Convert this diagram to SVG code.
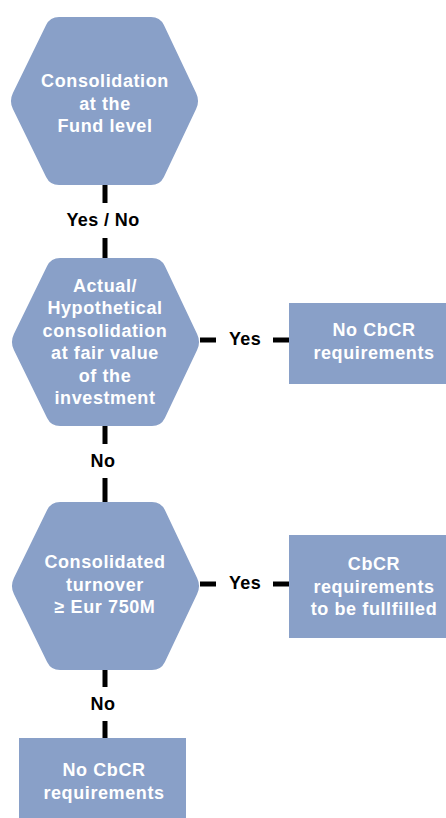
<svg xmlns="http://www.w3.org/2000/svg" width="446" height="818" viewBox="0 0 446 818">
<defs>
<style>
.shape{fill:#89a0c8}
.nt{font-family:"Liberation Sans",Arial,sans-serif;font-weight:bold;font-size:18px;fill:#fff;text-anchor:middle;letter-spacing:0.6px}
.lbl{font-family:"Liberation Sans",Arial,sans-serif;font-weight:bold;font-size:18px;fill:#000;text-anchor:middle;letter-spacing:0.4px}
.c{stroke:#000;stroke-width:5;fill:none}
</style>
<path id="hex" d="M59,17 L151,17 Q160,17 163.9,25.1 L196.1,92.9 Q200,101 196.1,109.1 L163.9,176.9 Q160,185 151,185 L59,185 Q50,185 46.1,176.9 L12.9,109.1 Q9,101 12.9,92.9 L46.1,25.1 Q50,17 59,17 Z"/>
</defs>
<rect width="446" height="818" fill="#fff"/>
<g id="connectors">
<line class="c" x1="105" y1="185" x2="105" y2="203"/>
<line class="c" x1="105" y1="238" x2="105" y2="259"/>
<line class="c" x1="105" y1="425" x2="105" y2="444"/>
<line class="c" x1="105" y1="478" x2="105" y2="503"/>
<line class="c" x1="105" y1="669" x2="105" y2="687"/>
<line class="c" x1="105" y1="721" x2="105" y2="739"/>
<line class="c" x1="200" y1="340" x2="216" y2="340"/>
<line class="c" x1="273" y1="340" x2="290" y2="340"/>
<line class="c" x1="200" y1="584" x2="216" y2="584"/>
<line class="c" x1="273" y1="584" x2="290" y2="584"/>
<text class="lbl" x="103" y="220" dy="0.35em">Yes / No</text>
<text class="lbl" x="103" y="461" dy="0.35em">No</text>
<text class="lbl" x="245" y="339" dy="0.35em">Yes</text>
<text class="lbl" x="245" y="583" dy="0.35em">Yes</text>
<text class="lbl" x="103" y="704" dy="0.35em">No</text>
</g>
<g id="n1">
<use href="#hex" class="shape"/>
<text class="nt"><tspan x="105" y="81" dy="0.35em">Consolidation</tspan><tspan x="105" y="104" dy="0.35em">at the</tspan><tspan x="105" y="126" dy="0.35em">Fund level</tspan></text>
</g>
<g id="n2">
<use href="#hex" class="shape" transform="translate(1,241)"/>
<text class="nt"><tspan x="105" y="286" dy="0.35em">Actual/</tspan><tspan x="105" y="308" dy="0.35em">Hypothetical</tspan><tspan x="105" y="331" dy="0.35em">consolidation</tspan><tspan x="105" y="353" dy="0.35em">at fair value</tspan><tspan x="105" y="376" dy="0.35em">of the</tspan><tspan x="105" y="398" dy="0.35em">investment</tspan></text>
</g>
<g id="n3">
<rect class="shape" x="289" y="303" width="160" height="81"/>
<text class="nt"><tspan x="374" y="330" dy="0.35em">No CbCR</tspan><tspan x="374" y="353" dy="0.35em">requirements</tspan></text>
</g>
<g id="n4">
<use href="#hex" class="shape" transform="translate(1,485)"/>
<text class="nt"><tspan x="105" y="562" dy="0.35em">Consolidated</tspan><tspan x="105" y="585" dy="0.35em">turnover</tspan><tspan x="105" y="607" dy="0.35em">≥ Eur 750M</tspan></text>
</g>
<g id="n5">
<rect class="shape" x="289" y="535" width="160" height="103"/>
<text class="nt"><tspan x="374" y="564" dy="0.35em">CbCR</tspan><tspan x="374" y="587" dy="0.35em">requirements</tspan><tspan x="374" y="609" dy="0.35em">to be fullfilled</tspan></text>
</g>
<g id="n6">
<rect class="shape" x="19" y="738" width="167" height="82"/>
<text class="nt"><tspan x="104" y="770" dy="0.35em">No CbCR</tspan><tspan x="104" y="793" dy="0.35em">requirements</tspan></text>
</g>
</svg>
